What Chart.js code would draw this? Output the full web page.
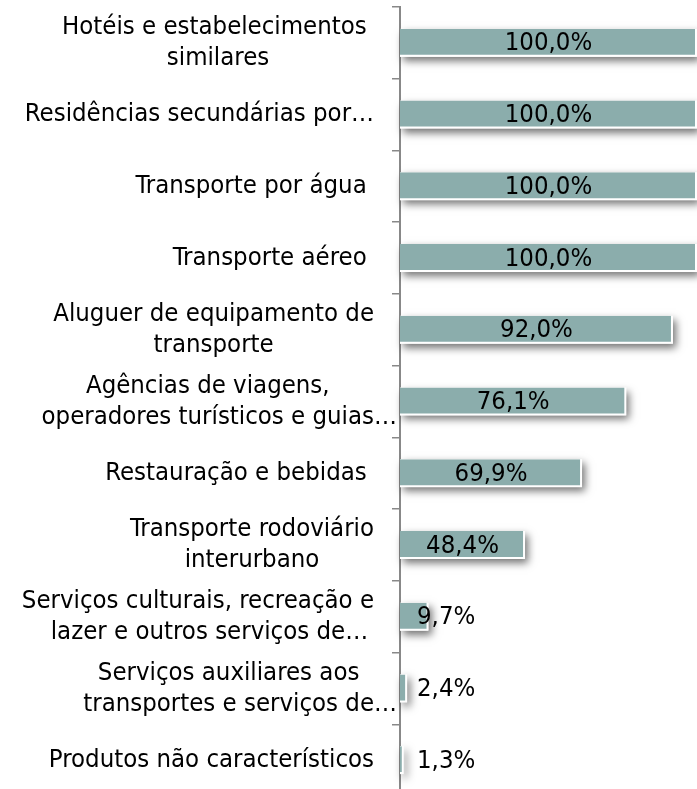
<!DOCTYPE html>
<html>
<head>
<meta charset="utf-8">
<script src="https://cdn.jsdelivr.net/npm/chart.js@4.4.1/dist/chart.umd.min.js"></script>
<style>
  html, body { margin: 0; padding: 0; background: #fff; overflow: hidden; }
  #bar-chart { display: block; }
</style>
</head>
<body>
<canvas id="bar-chart" width="697" height="797"></canvas>
<script>
// category labels (line breaks as in the original)
const categories = [
    ['Hotéis e estabelecimentos ', 'similares'],
    ['Residências secundárias por…'],
    ['Transporte por água '],
    ['Transporte aéreo '],
    ['Aluguer de equipamento de', 'transporte'],
    ['Agências de viagens,', 'operadores turísticos e guias…'],
    ['Restauração e bebidas '],
    ['Transporte rodoviário', 'interurbano'],
    ['Serviços culturais, recreação e', 'lazer e outros serviços de…'],
    ['Serviços auxiliares aos', 'transportes e serviços de…'],
    ['Produtos não característicos']
];
// bar lengths as drawn in the original (two bars are shorter than their labels say)
const barValues = [100.0, 100.0, 100.0, 100.0, 91.9, 76.2, 61.3, 42.1, 9.6, 2.4, 1.2];
// data label texts as printed
const valueLabels = ['100,0%', '100,0%', '100,0%', '100,0%', '92,0%', '76,1%', '69,9%', '48,4%', '9,7%', '2,4%', '1,3%'];

const barColor = '#8badac';
const axisColor = '#888888';
const font = '25.5px "DejaVu Sans Condensed", "Liberation Sans", sans-serif';

// soft shadow under each bar (drawn before the bars themselves)
const barShadow = {
    id: 'barShadow',
    beforeDatasetsDraw(chart) {
        const ctx = chart.ctx;
        const meta = chart.getDatasetMeta(0);
        ctx.save();
        ctx.shadowColor = 'rgba(0, 0, 0, 0.55)';
        ctx.shadowBlur = 8;
        ctx.shadowOffsetX = 3;
        ctx.shadowOffsetY = 4;
        ctx.fillStyle = '#ffffff';
        meta.data.forEach(bar => {
            const { x, y, base, height } = bar.getProps(['x', 'y', 'base', 'height'], true);
            ctx.fillRect(base, y - height / 2, x - base, height);
        });
        ctx.restore();
    }
};

// value labels: centred in the bar, pushed right when the bar is too short
const barLabels = {
    id: 'barLabels',
    afterDatasetsDraw(chart) {
        const ctx = chart.ctx;
        const meta = chart.getDatasetMeta(0);
        ctx.save();
        ctx.font = font;
        ctx.fillStyle = '#000';
        ctx.textBaseline = 'middle';
        ctx.textAlign = 'left';
        meta.data.forEach((bar, i) => {
            const { x, y, base } = bar.getProps(['x', 'y', 'base'], true);
            const text = valueLabels[i];
            const w = ctx.measureText(text).width;
            let left = (base + x) / 2 - w / 2;
            if (left < base + 17) left = base + 17;
            ctx.fillText(text, left, y + 1);
        });
        ctx.restore();
    }
};

// category labels: right-aligned blocks, lines centred inside the block
const categoryLabels = {
    id: 'categoryLabels',
    afterDraw(chart) {
        const ctx = chart.ctx;
        const yScale = chart.scales.y;
        const right = 374;
        const lineH = 31;
        ctx.save();
        ctx.font = font;
        ctx.fillStyle = '#000';
        ctx.textBaseline = 'middle';
        ctx.textAlign = 'left';
        chart.data.labels.forEach((lines, i) => {
            const yc = yScale.getPixelForValue(i);
            const multi = lines.length > 1;
            const widths = lines.map(l => ctx.measureText(multi ? l.replace(/…$/, '') : l).width);
            const blockW = Math.max(...widths);
            const cx = right - blockW / 2;
            lines.forEach((l, k) => {
                const ly = yc + (k - (lines.length - 1) / 2) * lineH;
                ctx.fillText(l, cx - widths[k] / 2, ly);
            });
        });
        ctx.restore();
    }
};

const ctx = document.getElementById('bar-chart').getContext('2d');
new Chart(ctx, {
    type: 'bar',
    data: {
        labels: categories,
        datasets: [{
            data: barValues,
            backgroundColor: barColor,
            borderColor: '#ffffff',
            borderWidth: { top: 0, left: 0, right: 2, bottom: 2 },
            borderSkipped: false,
            barPercentage: 0.39,
            categoryPercentage: 1
        }]
    },
    options: {
        indexAxis: 'y',
        responsive: false,
        animation: false,
        devicePixelRatio: 1,
        layout: { padding: { top: 7, right: 0, bottom: 1, left: 0 } },
        scales: {
            x: {
                display: false,
                min: 0,
                max: 100
            },
            y: {
                afterFit(scale) { scale.width = 400; },
                ticks: { display: false },
                grid: {
                    display: true,
                    drawOnChartArea: false,
                    drawTicks: true,
                    tickLength: 8,
                    color: axisColor,
                    lineWidth: 1.5
                },
                border: { display: true, color: axisColor, width: 2 }
            }
        },
        plugins: {
            legend: { display: false },
            tooltip: { enabled: false }
        }
    },
    plugins: [barShadow, barLabels, categoryLabels]
});
</script>
</body>
</html>
